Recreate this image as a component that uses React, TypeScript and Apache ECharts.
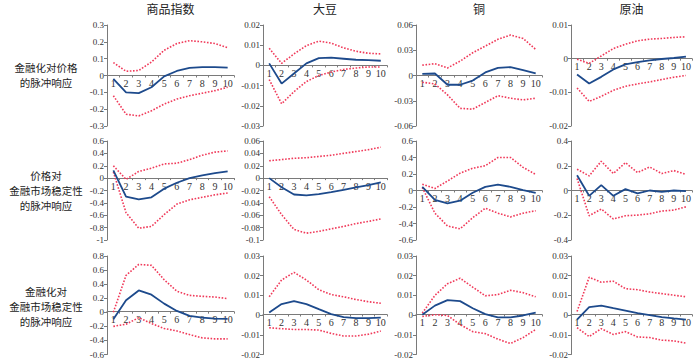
import React, { useEffect, useRef } from "react";
import * as echarts from "echarts";

const periods = ["1", "2", "3", "4", "5", "6", "7", "8", "9", "10"];
const columnTitles = ["商品指数", "大豆", "铜", "原油"];
const rowLabels = [
  ["金融化对价格", "的脉冲响应"],
  ["价格对", "金融市场稳定性", "的脉冲响应"],
  ["金融化对", "金融市场稳定性", "的脉冲响应"],
];

// y-axis ranges [min, max, interval] per row/column
const axisRanges = [
  [[-0.3, 0.3, 0.1], [-0.03, 0.02, 0.01], [-0.06, 0.06, 0.03], [-0.02, 0.01, 0.01]],
  [[-1, 0.6, 0.2], [-0.1, 0.06, 0.02], [-0.6, 0.6, 0.2], [-0.4, 0.4, 0.2]],
  [[-0.6, 0.8, 0.2], [-0.02, 0.03, 0.01], [-0.02, 0.03, 0.01], [-0.02, 0.03, 0.01]],
];

// Row 1: financialization -> price
const r1c1Irf = [-0.02, -0.1, -0.105, -0.07, -0.005, 0.027, 0.045, 0.05, 0.05, 0.047];
const r1c1Up = [0.077, 0.025, 0.03, 0.08, 0.15, 0.19, 0.207, 0.2, 0.19, 0.165];
const r1c1Lo = [-0.12, -0.23, -0.24, -0.21, -0.17, -0.14, -0.12, -0.105, -0.09, -0.07];

const r1c2Irf = [0.001, -0.009, -0.004, 0.001, 0.0036, 0.0038, 0.0033, 0.0028, 0.0026, 0.0023];
const r1c2Up = [0.0085, 0.001, 0.0057, 0.0098, 0.012, 0.011, 0.0087, 0.007, 0.006, 0.0057];
const r1c2Lo = [-0.007, -0.019, -0.013, -0.008, -0.005, -0.0033, -0.002, -0.0013, -0.0008, -0.0008];

const r1c3Irf = [0.002, 0.0024, -0.011, -0.011, -0.006, 0.0036, 0.009, 0.01, 0.0064, 0.0024];
const r1c3Up = [0.0123, 0.014, 0.009, 0.017, 0.027, 0.035, 0.043, 0.048, 0.044, 0.031];
const r1c3Lo = [-0.008, -0.01, -0.023, -0.039, -0.04, -0.032, -0.024, -0.027, -0.029, -0.027];

const r1c4Irf = [-0.0047, -0.0074, -0.0054, -0.0032, -0.0017, -0.001, -0.0005, -0.0001, 0.0002, 0.0006];
const r1c4Up = [-0.0002, -0.0014, 0.0008, 0.003, 0.0043, 0.0053, 0.0058, 0.006, 0.0063, 0.0065];
const r1c4Lo = [-0.0087, -0.0127, -0.0112, -0.0094, -0.0082, -0.0075, -0.0069, -0.0062, -0.0055, -0.005];

// Row 2: price -> financial market stability
const r2c1Irf = [0.125, -0.3, -0.345, -0.31, -0.17, -0.075, 0, 0.043, 0.08, 0.108];
const r2c1Up = [0.2, -0.02, 0.108, 0.16, 0.23, 0.24, 0.3, 0.37, 0.42, 0.44];
const r2c1Lo = [0.1, -0.56, -0.81, -0.78, -0.59, -0.42, -0.35, -0.31, -0.27, -0.24];

const r2c2Irf = [0, -0.0146, -0.0265, -0.028, -0.026, -0.0227, -0.019, -0.015, -0.0113, -0.007];
const r2c2Up = [0.028, 0.03, 0.032, 0.033, 0.035, 0.037, 0.04, 0.043, 0.046, 0.05];
const r2c2Lo = [-0.03, -0.059, -0.083, -0.089, -0.086, -0.082, -0.078, -0.0735, -0.07, -0.066];

const r2c3Irf = [0.044, -0.115, -0.155, -0.123, -0.028, 0.044, 0.072, 0.044, 0.004, -0.028];
const r2c3Up = [0.075, 0.024, 0.115, 0.21, 0.27, 0.3, 0.4, 0.4, 0.28, 0.195];
const r2c3Lo = [0.036, -0.275, -0.43, -0.465, -0.33, -0.215, -0.275, -0.32, -0.275, -0.245];

const r2c4Irf = [0.123, -0.043, 0.043, -0.043, 0.011, -0.024, 0, -0.011, 0, -0.005];
const r2c4Up = [0.172, 0.118, 0.236, 0.137, 0.225, 0.145, 0.19, 0.137, 0.161, 0.129];
const r2c4Lo = [0.097, -0.204, -0.15, -0.23, -0.204, -0.199, -0.188, -0.166, -0.158, -0.132];

// Row 3: financialization -> financial market stability
const r3c1Irf = [-0.1, 0.17, 0.31, 0.25, 0.123, 0.019, -0.052, -0.076, -0.09, -0.095];
const r3c1Up = [0, 0.525, 0.68, 0.667, 0.463, 0.3, 0.24, 0.227, 0.217, 0.194];
const r3c1Lo = [-0.2, -0.17, -0.076, -0.16, -0.23, -0.265, -0.317, -0.364, -0.378, -0.378];

const r3c2Irf = [0.0013, 0.0056, 0.0071, 0.0056, 0.003, 0.0005, -0.001, -0.0015, -0.0015, -0.0013];
const r3c2Up = [0.0093, 0.0178, 0.0217, 0.0178, 0.0129, 0.0104, 0.0093, 0.0079, 0.0068, 0.006];
const r3c2Lo = [-0.0064, -0.0069, -0.0073, -0.0073, -0.0076, -0.0093, -0.0106, -0.0106, -0.0097, -0.0081];

const r3c3Irf = [0.0002, 0.0048, 0.0076, 0.0071, 0.0035, 0.0005, -0.0012, -0.0012, -0.0002, 0.0013];
const r3c3Up = [0.001, 0.01, 0.0159, 0.0187, 0.0142, 0.0098, 0.0104, 0.0126, 0.0114, 0.0093];
const r3c3Lo = [-0.0007, 0.0002, -0.0002, -0.0048, -0.0084, -0.0094, -0.0122, -0.0144, -0.0114, -0.0073];

const r3c4Irf = [-0.0023, 0.004, 0.0048, 0.0035, 0.0023, 0.001, 0, -0.001, -0.0017, -0.0023];
const r3c4Up = [0.0018, 0.0192, 0.0167, 0.0172, 0.0134, 0.0129, 0.0117, 0.0109, 0.0101, 0.0093];
const r3c4Lo = [-0.0064, -0.0109, -0.0069, -0.0098, -0.0084, -0.0111, -0.0114, -0.0127, -0.0131, -0.0142];

const panels = [
  [[r1c1Irf, r1c1Up, r1c1Lo], [r1c2Irf, r1c2Up, r1c2Lo], [r1c3Irf, r1c3Up, r1c3Lo], [r1c4Irf, r1c4Up, r1c4Lo]],
  [[r2c1Irf, r2c1Up, r2c1Lo], [r2c2Irf, r2c2Up, r2c2Lo], [r2c3Irf, r2c3Up, r2c3Lo], [r2c4Irf, r2c4Up, r2c4Lo]],
  [[r3c1Irf, r3c1Up, r3c1Lo], [r3c2Irf, r3c2Up, r3c2Lo], [r3c3Irf, r3c3Up, r3c3Lo], [r3c4Irf, r3c4Up, r3c4Lo]],
];

const colLefts = [107, 263, 416, 571];
const colWidths = [127, 124, 126, 121];
const rowTops = [25, 141, 256];
const rowHeights = [101, 99, 100];

const BLUE = "#1d4a8c";
const RED = "#f03a5a";
const AXIS = "#7a7a7a";
const LABEL_FONT = "Liberation Serif";
const CJK_FONT = "Noto Sans CJK SC";

export default function App() {
  const ref = useRef<HTMLDivElement>(null);
  useEffect(() => {
    if (!ref.current) return;
    const chart = echarts.init(ref.current, undefined, { renderer: "svg" });
    const grid: any[] = [];
    const xAxis: any[] = [];
    const yAxis: any[] = [];
    const series: any[] = [];
    const graphic: any[] = [];
    let idx = 0;
    for (let r = 0; r < 3; r++) {
      for (let c = 0; c < 4; c++) {
        const [mn, mx, iv] = axisRanges[r][c];
        // place the category axis at the zero line of the value axis
        const zeroOffset = -rowHeights[r] * (-mn) / (mx - mn);
        grid.push({ left: colLefts[c], top: rowTops[r], width: colWidths[c], height: rowHeights[r] });
        xAxis.push({
          type: "category",
          gridIndex: idx,
          data: periods,
          boundaryGap: true,
          position: "bottom",
          offset: zeroOffset,
          axisLine: { onZero: false, lineStyle: { color: AXIS, width: 1 } },
          axisTick: { show: true, length: 2, lineStyle: { color: AXIS } },
          axisLabel: { fontFamily: LABEL_FONT, fontSize: 10, color: "#333", margin: 3, interval: 0 },
          splitLine: { show: false },
        });
        yAxis.push({
          type: "value",
          gridIndex: idx,
          min: mn,
          max: mx,
          interval: iv,
          axisLine: { show: true, lineStyle: { color: AXIS, width: 1 } },
          axisTick: { show: true, length: 3, lineStyle: { color: AXIS } },
          axisLabel: { fontFamily: LABEL_FONT, fontSize: 9, color: "#333", margin: 3 },
          splitLine: { show: false },
        });
        const [irf, up, lo] = panels[r][c];
        series.push({
          type: "line", xAxisIndex: idx, yAxisIndex: idx, data: up, symbol: "none",
          lineStyle: { color: RED, width: 1.6, type: "dotted" }, z: 2,
        });
        series.push({
          type: "line", xAxisIndex: idx, yAxisIndex: idx, data: lo, symbol: "none",
          lineStyle: { color: RED, width: 1.6, type: "dotted" }, z: 2,
        });
        series.push({
          type: "line", xAxisIndex: idx, yAxisIndex: idx, data: irf, symbol: "none",
          lineStyle: { color: BLUE, width: 1.8 }, z: 3,
        });
        idx++;
      }
    }
    for (let c = 0; c < 4; c++) {
      graphic.push({
        type: "text",
        x: colLefts[c] + colWidths[c] / 2,
        y: 8,
        style: {
          text: columnTitles[c],
          fontFamily: CJK_FONT,
          fontSize: 12,
          fill: "#222",
          textAlign: "center",
          textVerticalAlign: "middle",
        },
      });
    }
    const rowLineY = [
      [67, 82],
      [175, 190, 205],
      [291, 306, 321],
    ];
    for (let r = 0; r < 3; r++) {
      rowLabels[r].forEach((line, i) => {
        graphic.push({
          type: "text",
          x: 46,
          y: rowLineY[r][i],
          style: {
            text: line,
            fontFamily: CJK_FONT,
            fontSize: 10.5,
            lineHeight: 11,
            fill: "#222",
            textAlign: "center",
            textVerticalAlign: "middle",
          },
        });
      });
    }
    chart.setOption({
      animation: false,
      backgroundColor: "#ffffff",
      grid,
      xAxis,
      yAxis,
      series,
      graphic,
    });
    return () => chart.dispose();
  }, []);
  return <div ref={ref} style={{ width: 700, height: 359, position: "absolute", left: 0, top: 0 }} />;
}
